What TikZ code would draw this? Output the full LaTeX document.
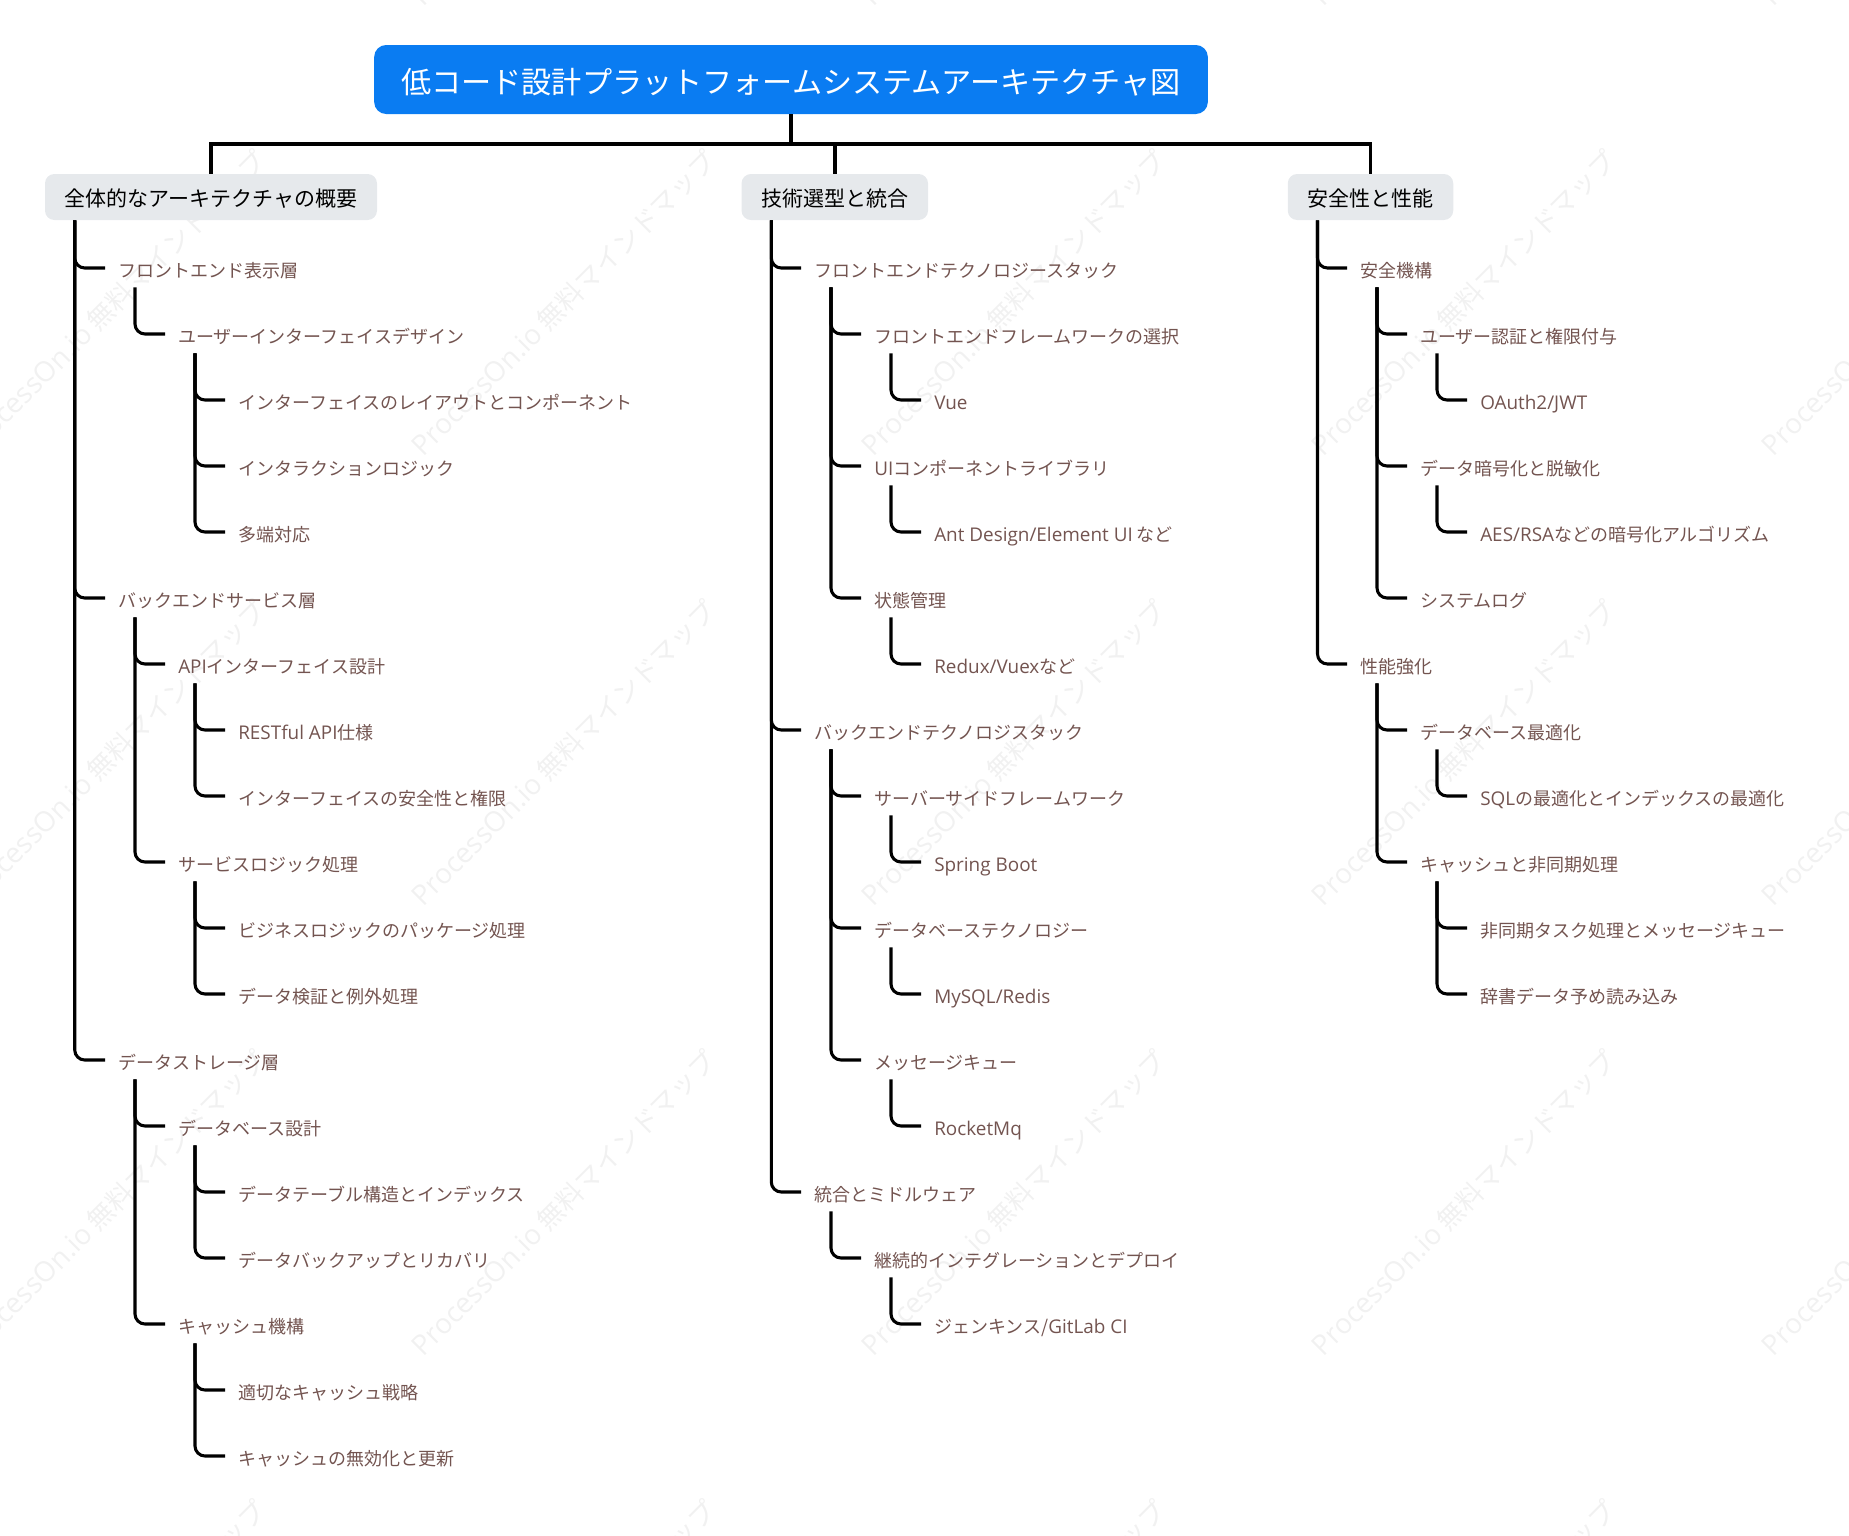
\documentclass[tikz,border=0pt]{standalone}
\usepackage{fontspec}
\setmainfont{Noto Sans CJK JP}
\newfontfamily\lat[Scale=1.05]{Open Sans}
\definecolor{titleblue}{HTML}{0A7CF2}
\definecolor{groupgrey}{HTML}{E6E9EC}
\definecolor{leafbrown}{HTML}{735450}
\definecolor{stampgrey}{HTML}{F1F1F1}
\tikzset{
  titlebox/.style={fill=titleblue,text=white,rounded corners=9pt,inner xsep=20.3pt,inner ysep=0pt,minimum height=51.75pt,text height=23.4pt,text depth=2.7pt,font=\fontsize{22.6pt}{26pt}\selectfont},
  groupbox/.style={fill=groupgrey,text=black,rounded corners=7pt,inner xsep=14.8pt,inner ysep=0pt,minimum height=34.5pt,text height=16.4pt,text depth=1.8pt,font=\fontsize{15.75pt}{19pt}\selectfont},
  leaf/.style={anchor=west,xshift=-0.75pt,text=leafbrown,inner sep=0pt,minimum height=28.5pt,text height=15pt,text depth=1.2pt,font=\fontsize{13.5pt}{16pt}\selectfont},
  trunk/.style={draw=black,line width=2.6pt},
  link/.style={draw=black,line width=2.3pt,rounded corners=7.5pt},
  stamp/.style={text=stampgrey,rotate=45,inner sep=0pt,font=\fontsize{20pt}{24pt}\selectfont}
}
\begin{document}
\begin{tikzpicture}[x=0.75pt,y=-0.75pt]
\useasboundingbox (0,0) rectangle (1849,1535);

% Filigrana
\begin{scope}
\clip (0,0) rectangle (1849,1535);
\foreach \i in {-1,...,3}
  \foreach \j in {-1,...,3}
    \node[stamp] (wm\i\j) at (564+450*\i,303+450*\j) {{\lat ProcessOn.io} 無料マインドマップ};
\end{scope}

% Titolo e gruppi
\node[titlebox] (title) at (791,79.5) {低コード設計プラットフォームシステムアーキテクチャ図};
\node[groupbox] (g1) at (211,197) {全体的なアーキテクチャの概要};
\node[groupbox] (g2) at (834.8,197) {技術選型と統合};
\node[groupbox] (g3) at (1370.5,197) {安全性と性能};
\coordinate (bar) at (791,144);

% Colonna 1
\node[leaf] (a1) at (119,268) {フロントエンド表示層};
\node[leaf] (a2) at (179,334) {ユーザーインターフェイスデザイン};
\node[leaf] (a3) at (239,400) {インターフェイスのレイアウトとコンポーネント};
\node[leaf] (a4) at (239,466) {インタラクションロジック};
\node[leaf] (a5) at (239,532) {多端対応};
\node[leaf] (a6) at (119,598) {バックエンドサービス層};
\node[leaf] (a7) at (179,664) {{\lat API}インターフェイス設計};
\node[leaf] (a8) at (239,730) {{\lat RESTful API}仕様};
\node[leaf] (a9) at (239,796) {インターフェイスの安全性と権限};
\node[leaf] (a10) at (179,862) {サービスロジック処理};
\node[leaf] (a11) at (239,928) {ビジネスロジックのパッケージ処理};
\node[leaf] (a12) at (239,994) {データ検証と例外処理};
\node[leaf] (a13) at (119,1060) {データストレージ層};
\node[leaf] (a14) at (179,1126) {データベース設計};
\node[leaf] (a15) at (239,1192) {データテーブル構造とインデックス};
\node[leaf] (a16) at (239,1258) {データバックアップとリカバリ};
\node[leaf] (a17) at (179,1324) {キャッシュ機構};
\node[leaf] (a18) at (239,1390) {適切なキャッシュ戦略};
\node[leaf] (a19) at (239,1456) {キャッシュの無効化と更新};

% Colonna 2
\node[leaf] (b1) at (815,268) {フロントエンドテクノロジースタック};
\node[leaf] (b2) at (875,334) {フロントエンドフレームワークの選択};
\node[leaf] (b3) at (935,400) {{\lat Vue}};
\node[leaf] (b4) at (875,466) {{\lat UI}コンポーネントライブラリ};
\node[leaf] (b5) at (935,532) {{\lat Ant Design/Element UI} など};
\node[leaf] (b6) at (875,598) {状態管理};
\node[leaf] (b7) at (935,664) {{\lat Redux/Vuex}など};
\node[leaf] (b8) at (815,730) {バックエンドテクノロジスタック};
\node[leaf] (b9) at (875,796) {サーバーサイドフレームワーク};
\node[leaf] (b10) at (935,862) {{\lat Spring Boot}};
\node[leaf] (b11) at (875,928) {データベーステクノロジー};
\node[leaf] (b12) at (935,994) {{\lat MySQL/Redis}};
\node[leaf] (b13) at (875,1060) {メッセージキュー};
\node[leaf] (b14) at (935,1126) {{\lat RocketMq}};
\node[leaf] (b15) at (815,1192) {統合とミドルウェア};
\node[leaf] (b16) at (875,1258) {継続的インテグレーションとデプロイ};
\node[leaf] (b17) at (935,1324) {ジェンキンス/{\lat GitLab CI}};

% Colonna 3
\node[leaf] (c1) at (1361,268) {安全機構};
\node[leaf] (c2) at (1421,334) {ユーザー認証と権限付与};
\node[leaf] (c3) at (1481,400) {{\lat OAuth2/JWT}};
\node[leaf] (c4) at (1421,466) {データ暗号化と脱敏化};
\node[leaf] (c5) at (1481,532) {{\lat AES/RSA}などの暗号化アルゴリズム};
\node[leaf] (c6) at (1421,598) {システムログ};
\node[leaf] (c7) at (1361,664) {性能強化};
\node[leaf] (c8) at (1421,730) {データベース最適化};
\node[leaf] (c9) at (1481,796) {{\lat SQL}の最適化とインデックスの最適化};
\node[leaf] (c10) at (1421,862) {キャッシュと非同期処理};
\node[leaf] (c11) at (1481,928) {非同期タスク処理とメッセージキュー};
\node[leaf] (c12) at (1481,994) {辞書データ予め読み込み};

% Collegamenti
\draw[trunk] (title.south) -- (bar) -| (g1.north);
\draw[trunk] (bar) -| (g2.north);
\draw[trunk] (bar) -| (g3.north);
\foreach \p/\c in {g1/a1,g1/a6,g1/a13,g2/b1,g2/b8,g2/b15,g3/c1,g3/c7}
  \draw[link] ([xshift=22.5pt]\p.south west) |- ([xshift=-9.75pt]\c.west);
\foreach \p/\c in {a1/a2,a2/a3,a2/a4,a2/a5,a6/a7,a7/a8,a7/a9,a6/a10,a10/a11,a10/a12,a13/a14,a14/a15,a14/a16,a13/a17,a17/a18,a17/a19,
    b1/b2,b2/b3,b1/b4,b4/b5,b1/b6,b6/b7,b8/b9,b9/b10,b8/b11,b11/b12,b8/b13,b13/b14,b15/b16,b16/b17,
    c1/c2,c2/c3,c1/c4,c4/c5,c1/c6,c7/c8,c8/c9,c7/c10,c10/c11,c10/c12}
  \draw[link] ([xshift=12.75pt]\p.south west) |- ([xshift=-9.75pt]\c.west);
\end{tikzpicture}
\end{document}
